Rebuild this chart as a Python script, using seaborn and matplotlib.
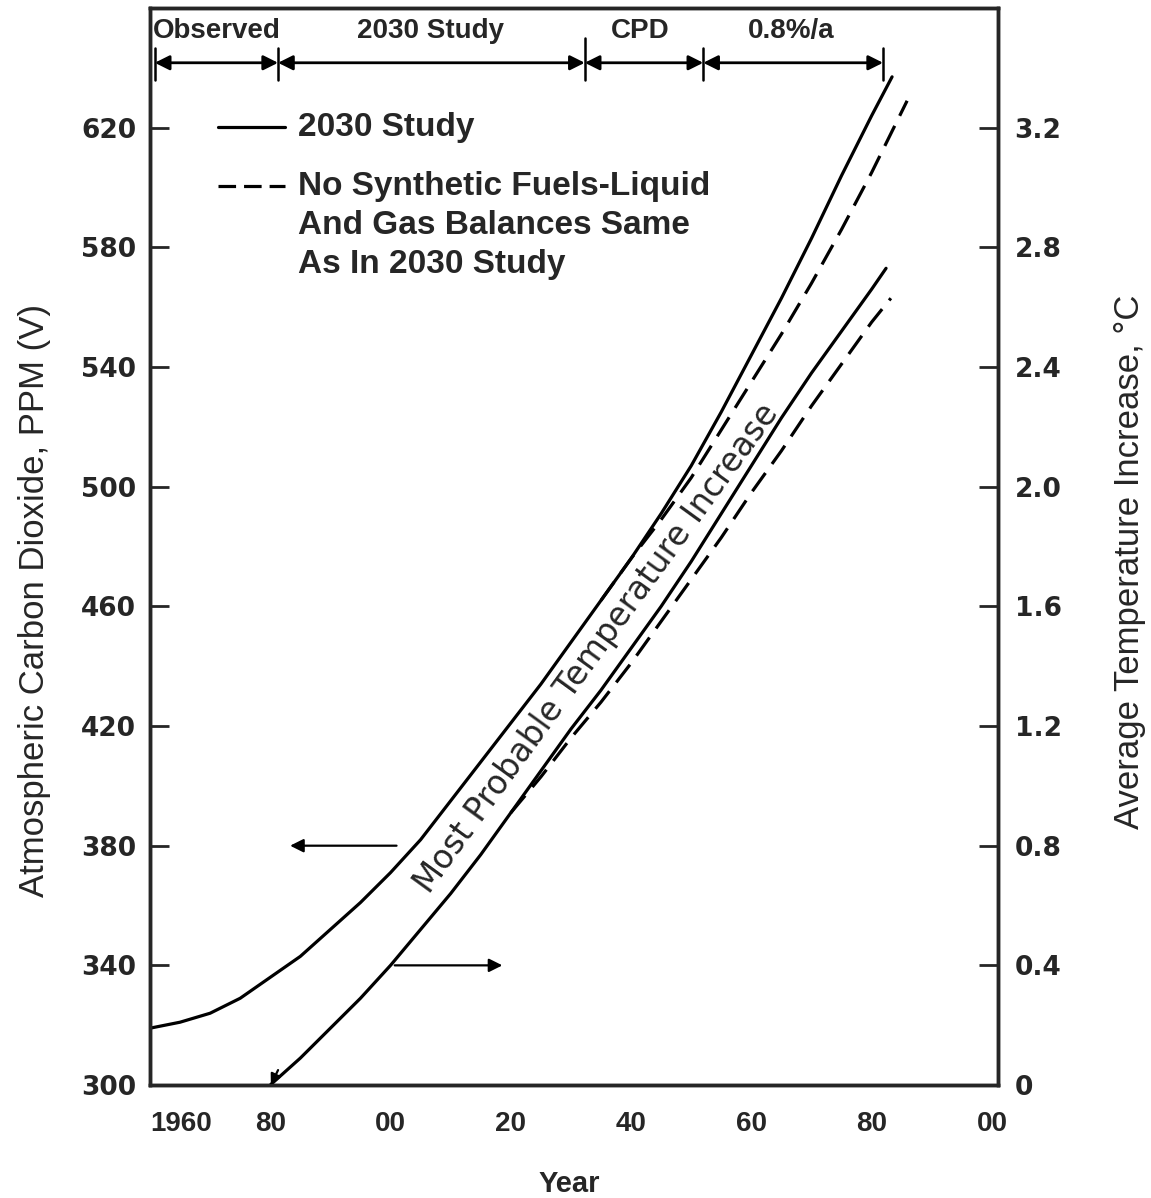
import seaborn as sns
import matplotlib.pyplot as plt
import pandas as pd
import numpy as np
from matplotlib import font_manager

# ---- data ----
co2_years = [1960, 1965, 1970, 1975, 1980, 1985, 1990, 1995, 2000, 2005, 2010, 2015, 2020,
             2025, 2030, 2035, 2040, 2045, 2050, 2055, 2060, 2065, 2070, 2075, 2080, 2083.4]
co2_base = [319, 321, 324, 329, 336, 343, 352, 361, 371, 382, 395, 408, 421,
            434, 448, 462, 476, 491, 507, 525, 544, 563, 583, 604, 624, 637]

co2_nosyn_years = [2035, 2040, 2045, 2050, 2055, 2060, 2065, 2070, 2075, 2080, 2085.9]
co2_nosyn = [462, 476, 489, 503, 519, 535, 551, 568, 586, 605, 629]

temp_years = [1980, 1985, 1990, 1995, 2000, 2005, 2010, 2015, 2020, 2025, 2030, 2035,
              2040, 2045, 2050, 2055, 2060, 2065, 2070, 2075, 2080, 2082.4]
temp_base = [0.0, 0.09, 0.19, 0.29, 0.40, 0.52, 0.64, 0.77, 0.91, 1.05, 1.19, 1.32,
             1.46, 1.60, 1.75, 1.91, 2.07, 2.23, 2.38, 2.52, 2.66, 2.73]

temp_nosyn_years = [2020, 2025, 2030, 2035, 2040, 2045, 2050, 2055, 2060, 2065, 2070, 2075, 2080, 2083.2]
temp_nosyn = [0.91, 1.03, 1.16, 1.28, 1.41, 1.55, 1.69, 1.83, 1.98, 2.12, 2.27, 2.41, 2.55, 2.63]

# study periods shown across the top
period_names = ["Observed", "2030 Study", "CPD", "0.8%/a"]
period_edges = [1960.8, 1981.3, 2032.3, 2052.0, 2081.9]
period_label_x = [1971.1, 2006.6, 2041.5, 2066.7]

xticks = [1960, 1980, 2000, 2020, 2040, 2060, 2080, 2100]
xtick_labels = ["1960", "80", "00", "20", "40", "60", "80", "00"]
ppm_ticks = [300, 340, 380, 420, 460, 500, 540, 580, 620]
temp_ticks = [0, 0.4, 0.8, 1.2, 1.6, 2.0, 2.4, 2.8, 3.2]
temp_tick_labels = ["0", "0.4", "0.8", "1.2", "1.6", "2.0", "2.4", "2.8", "3.2"]

co2_df = pd.DataFrame({"year": co2_years, "ppm": co2_base})
co2_ns_df = pd.DataFrame({"year": co2_nosyn_years, "ppm": co2_nosyn})
t_df = pd.DataFrame({"year": temp_years, "dT": temp_base})
t_ns_df = pd.DataFrame({"year": temp_nosyn_years, "dT": temp_nosyn})

# ---- style ----
sns.set_theme(style="white")
names = {f.name for f in font_manager.fontManager.ttflist}
NARROW = "Liberation Sans Narrow" if "Liberation Sans Narrow" in names else "Liberation Sans"
plt.rcParams["font.family"] = ["Liberation Sans", "DejaVu Sans"]
plt.rcParams["axes.linewidth"] = 2.5

fig = plt.figure(figsize=(11.51, 11.98), dpi=100)
ax = fig.add_axes([0.1303, 0.0943, 0.7367, 0.899])
ax2 = ax.twinx()

lw = 2.3
dash = (0, (7, 3.5))
sns.lineplot(data=co2_df, x="year", y="ppm", ax=ax, color="black", lw=lw)
sns.lineplot(data=co2_ns_df, x="year", y="ppm", ax=ax, color="black", lw=lw, linestyle=dash)
sns.lineplot(data=t_df, x="year", y="dT", ax=ax2, color="black", lw=lw)
sns.lineplot(data=t_ns_df, x="year", y="dT", ax=ax2, color="black", lw=lw, linestyle=dash)

ax.set_xlim(1960, 2101)
ax.set_ylim(300, 660)
ax2.set_ylim(0, 3.6)

# ticks
ax.set_xticks(xticks)
ax.set_xticklabels(xtick_labels, family=NARROW, fontweight="bold", fontsize=20)
ax.get_xticklabels()[0].set_horizontalalignment("left")
ax.tick_params(axis="x", direction="in", length=11, width=2.2, pad=19)
ax.set_yticks(ppm_ticks)
ax.set_yticklabels([str(v) for v in ppm_ticks], family="DejaVu Sans", fontweight="bold", fontsize=19)
ax.tick_params(axis="y", direction="in", length=14, width=2, pad=10)
ax2.set_yticks(temp_ticks)
ax2.set_yticklabels(temp_tick_labels, family="DejaVu Sans", fontweight="bold", fontsize=19)
ax2.tick_params(axis="y", direction="in", length=14, width=2, pad=12)

ax.set_xlabel("Year", family=NARROW, fontweight="bold", fontsize=21)
ax.xaxis.set_label_coords(0.494, -0.079)
ax.set_ylabel("Atmospheric Carbon Dioxide, PPM (V)", fontsize=25)
ax.yaxis.set_label_coords(-0.117, 0.45)
ax2.set_ylabel("Average Temperature Increase, °C", fontsize=25)
ax2.yaxis.set_label_coords(1.136, 0.486)
ax.grid(False)
ax2.grid(False)
for sp in ax2.spines.values():
    sp.set_linewidth(2.5)

# study periods along the top
bar_y = 641.7
for name, lx in zip(period_names, period_label_x):
    ax.text(lx, 652.3, name, ha="center", va="center", family=NARROW,
            fontweight="bold", fontsize=20)
for x0, x1 in zip(period_edges[:-1], period_edges[1:]):
    ax.annotate("", xy=(x1, bar_y), xytext=(x0, bar_y),
                arrowprops=dict(arrowstyle="<|-|>", mutation_scale=22, lw=2,
                                color="black", shrinkA=0, shrinkB=0))
for e in period_edges:
    top = 650 if e == period_edges[2] else 646.5
    ax.plot([e, e], [top, 636], color="black", lw=1.8)

# legend drawn by hand
ax.plot([0.080, 0.159], [0.8895, 0.8895], transform=ax.transAxes, color="black", lw=lw)
ax.plot([0.080, 0.159], [0.8347, 0.8347], transform=ax.transAxes, color="black", lw=lw,
        linestyle=(0, (5.5, 2.5)))
ax.text(0.1745, 0.8895, "2030 Study", transform=ax.transAxes, va="center",
        fontweight="bold", fontsize=24)
for txt, yy in zip(["No Synthetic Fuels-Liquid", "And Gas Balances Same", "As In 2030 Study"],
                   [0.8347, 0.798, 0.7623]):
    ax.text(0.1745, yy, txt, transform=ax.transAxes, va="center",
            fontweight="bold", fontsize=24)

# axis pointers
ax.annotate("", xy=(1983.3, 380), xytext=(2001, 380),
            arrowprops=dict(arrowstyle="-|>", mutation_scale=20, lw=1.6, color="black",
                            shrinkA=0, shrinkB=0))
ax2.annotate("", xy=(2018.6, 0.4), xytext=(2000.7, 0.4),
             arrowprops=dict(arrowstyle="-|>", mutation_scale=20, lw=1.6, color="black",
                             shrinkA=0, shrinkB=0))
ax2.annotate("", xy=(1980.1, 0.0), xytext=(1981.3, 0.05),
             arrowprops=dict(arrowstyle="-|>", mutation_scale=16, lw=1.6, color="black",
                             shrinkA=0, shrinkB=0))

ax.text(2034.3, 446, "Most Probable Temperature Increase", rotation=54,
        rotation_mode="anchor", ha="center", va="center",
        family="DejaVu Sans", fontsize=23.5)

fig.savefig("out.png", dpi=100)
